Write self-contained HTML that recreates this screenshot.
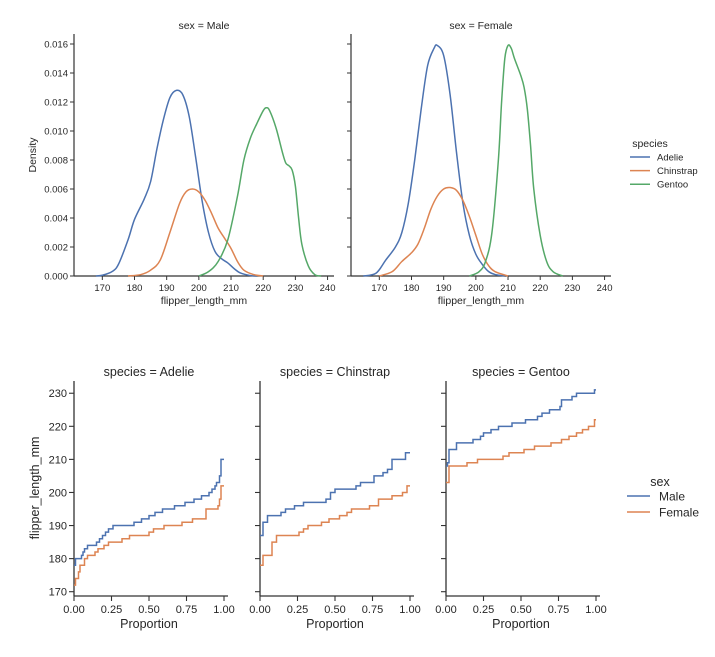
<!DOCTYPE html>
<html><head><meta charset="utf-8"><style>
body{margin:0;background:#fff}
svg{display:block;font-family:"Liberation Sans",sans-serif;fill:#262626}
</style></head><body>
<svg id="c" width="715" height="657" viewBox="0 0 715 657"></svg>
<script>
// ---- KDE data (top row) ----
const kdeMaleAdelieX=[168,170,173,175,178,180,183,185,187,189,191,193,195,197,199,201,203,205,207,209,211,213,216,218];
const kdeMaleAdelieY=[0,0.00005,0.0003,0.0008,0.0025,0.0039,0.0053,0.0065,0.0088,0.0108,0.0123,0.0128,0.0125,0.011,0.0082,0.0052,0.003,0.0017,0.0012,0.0009,0.0005,0.0002,0.00003,0];
const kdeMaleChinX=[178,182,185,188,191,194,196,198,200,202,204,206,208,210,212,214,217,220];
const kdeMaleChinY=[0,0.0001,0.0004,0.0011,0.003,0.005,0.0058,0.006,0.0058,0.0052,0.0043,0.0033,0.0026,0.0019,0.001,0.0004,0.0001,0];
const kdeMaleGenX=[200,203,206,209,212,214,216,218,220,221,222,224,226,227,228,229,230,231,232,234,236,238];
const kdeMaleGenY=[0,0.0003,0.001,0.0025,0.0055,0.008,0.0095,0.0105,0.0114,0.0116,0.0114,0.0102,0.0085,0.0078,0.0076,0.0073,0.0062,0.004,0.0022,0.0007,0.0001,0];
const kdeFemAdelieX=[165,169,172,175,177,179,181,183,185,187,188,190,192,194,196,198,200,202,204,206,209];
const kdeFemAdelieY=[0,0.0002,0.0011,0.002,0.003,0.005,0.008,0.0115,0.0145,0.0157,0.0159,0.0152,0.0125,0.0085,0.005,0.0028,0.0015,0.0008,0.0003,0.0001,0];
const kdeFemChinX=[170,174,177,180,182,184,186,188,190,192,194,196,198,200,202,204,206,210];
const kdeFemChinY=[0,0.0003,0.001,0.0016,0.0022,0.0033,0.0046,0.0055,0.006,0.0061,0.0059,0.0052,0.0041,0.0028,0.0015,0.0007,0.0003,0];
const kdeFemGenX=[198,201,203,205,207,208,209,210,211,212,214,215,216,217,218,220,222,224,227];
const kdeFemGenY=[0,0.0003,0.001,0.003,0.008,0.012,0.015,0.0159,0.0157,0.015,0.0138,0.013,0.0115,0.009,0.006,0.0028,0.001,0.0003,0];
const kdeXTicks=[170,180,190,200,210,220,230,240];
const kdeYTicks=[0,0.002,0.004,0.006,0.008,0.010,0.012,0.014,0.016];
// ---- ECDF data (bottom row): proportion where step starts, value ----
const adelieMaleP=[0,0.01,0.05,0.06,0.07,0.09,0.15,0.17,0.19,0.21,0.23,0.26,0.40,0.45,0.50,0.54,0.59,0.67,0.74,0.80,0.85,0.90,0.92,0.94,0.95,0.97,0.98];
const adelieMaleV=[178,180,181,182,183,184,185,186,187,188,189,190,191,192,193,194,195,196,197,198,199,200,201,202,203,205,210];
const adelieFemP=[0,0.01,0.03,0.04,0.07,0.09,0.14,0.16,0.20,0.23,0.32,0.37,0.50,0.53,0.60,0.72,0.79,0.88,0.96,0.97,0.98];
const adelieFemV=[172,174,176,178,180,181,182,183,184,185,186,187,188,189,190,191,192,195,196,198,202];
const chinMaleP=[0,0.02,0.05,0.14,0.17,0.23,0.29,0.44,0.47,0.50,0.64,0.67,0.76,0.82,0.85,0.88,0.97];
const chinMaleV=[187,191,193,194,195,196,197,198,200,201,202,203,205,206,207,210,212];
const chinFemP=[0,0.02,0.08,0.11,0.26,0.29,0.32,0.41,0.46,0.53,0.58,0.61,0.73,0.79,0.88,0.95,0.98];
const chinFemV=[178,181,185,187,188,189,190,191,192,193,194,195,196,198,199,200,202];
const genMaleP=[0,0.01,0.02,0.07,0.18,0.23,0.25,0.30,0.35,0.44,0.53,0.61,0.64,0.69,0.76,0.77,0.84,0.87,0.99];
const genMaleV=[208,209,213,215,216,217,218,219,220,221,222,223,224,225,226,228,229,230,231];
const genFemP=[0,0.02,0.14,0.21,0.38,0.42,0.52,0.59,0.70,0.77,0.82,0.87,0.91,0.95,0.99];
const genFemV=[203,208,209,210,211,212,213,214,215,216,217,218,219,220,222];
const ecdfXTicks=[0,0.25,0.5,0.75,1.0];
const ecdfXLabels=["0.00","0.25","0.50","0.75","1.00"];
const ecdfYTicks=[170,180,190,200,210,220,230];

const NS="http://www.w3.org/2000/svg";
const svg=document.getElementById('c');
const C={blue:"#4c72b0",orange:"#dd8452",green:"#55a868"};
function mk(tag,attrs,parent){const e=document.createElementNS(NS,tag);for(const k in attrs)e.setAttribute(k,attrs[k]);(parent||svg).appendChild(e);return e;}
function txt(s,x,y,size,anchor,name,rot){const t=mk('text',{x:x,y:y,'font-size':size,'text-anchor':anchor||'middle'});if(rot)t.setAttribute('transform','rotate(-90 '+x+' '+y+')');t.textContent=s;


return t;}

// ---- top KDE panels ----
function kdePanel(x0,x1,title,series,showY,nm){
  const yTop=34,yBot=276;
  const sx=v=>x0+(v-161.2)/(242-161.2)*(x1-x0);
  const sy=v=>yBot-(v/0.016)*(yBot-44);
  const g=mk('g',{});
  
  
  mk('line',{x1:x0,y1:yTop,x2:x0,y2:yBot,stroke:'#333','stroke-width':1.2},g);
  mk('line',{x1:x0,y1:yBot,x2:x1,y2:yBot,stroke:'#333','stroke-width':1.2},g);
  kdeYTicks.forEach(v=>{mk('line',{x1:x0-4,y1:sy(v),x2:x0,y2:sy(v),stroke:'#333','stroke-width':1},g);
    if(showY)txt(v.toFixed(3),x0-6,sy(v)+3.5,9.5,'end','y-tick-label');});
  kdeXTicks.forEach(v=>{mk('line',{x1:sx(v),y1:yBot,x2:sx(v),y2:yBot+4,stroke:'#333','stroke-width':1},g);
    txt(String(v),sx(v),yBot+15,9.5,'middle','x-tick-label');});
  txt('flipper_length_mm',(x0+x1)/2,yBot+28,10.5,'middle','x-axis-title');
  txt(title,(x0+x1)/2,29,10.5,'middle','panel-title');
  series.forEach(s=>{
    const pts=s.x.map((v,i)=>[sx(v),sy(s.y[i])]);
    let d='M'+pts[0][0]+','+pts[0][1];
    for(let i=0;i<pts.length-1;i++){const p0=pts[i-1]||pts[i],p1=pts[i],p2=pts[i+1],p3=pts[i+2]||p2;
      d+=' C'+(p1[0]+(p2[0]-p0[0])/6)+','+(p1[1]+(p2[1]-p0[1])/6)+' '+(p2[0]-(p3[0]-p1[0])/6)+','+(p2[1]-(p3[1]-p1[1])/6)+' '+p2[0]+','+p2[1];}
    const p=mk('path',{d:d,fill:'none',stroke:s.c,'stroke-width':1.5},g);
    
    
  });
}
kdePanel(74,334,'sex = Male',[{x:kdeMaleAdelieX,y:kdeMaleAdelieY,c:C.blue,n:'kde-male-adelie'},{x:kdeMaleChinX,y:kdeMaleChinY,c:C.orange,n:'kde-male-chinstrap'},{x:kdeMaleGenX,y:kdeMaleGenY,c:C.green,n:'kde-male-gentoo'}],true,'panel-male');
kdePanel(351,611,'sex = Female',[{x:kdeFemAdelieX,y:kdeFemAdelieY,c:C.blue,n:'kde-female-adelie'},{x:kdeFemChinX,y:kdeFemChinY,c:C.orange,n:'kde-female-chinstrap'},{x:kdeFemGenX,y:kdeFemGenY,c:C.green,n:'kde-female-gentoo'}],false,'panel-female');
txt('Density',36,155,10.5,'middle','density-axis-title',true);

// ---- bottom ECDF panels ----
function ecdfPanel(x0,title,series,showY,nm){
  const x1=x0+154,yTop=381,yBot=596;
  const sx=v=>x0+v*150;
  const sy=v=>yBot-(v-168.7)/(233.7-168.7)*(yBot-yTop);
  const g=mk('g',{});
  
  
  mk('line',{x1:x0,y1:yTop,x2:x0,y2:yBot,stroke:'#333','stroke-width':1.3},g);
  mk('line',{x1:x0,y1:yBot,x2:x1,y2:yBot,stroke:'#333','stroke-width':1.3},g);
  ecdfYTicks.forEach(v=>{mk('line',{x1:x0-5,y1:sy(v),x2:x0,y2:sy(v),stroke:'#333','stroke-width':1.1},g);
    if(showY)txt(String(v),x0-7,sy(v)+4,11,'end','y-tick-label');});
  ecdfXTicks.forEach((v,i)=>{mk('line',{x1:sx(v),y1:yBot,x2:sx(v),y2:yBot+5,stroke:'#333','stroke-width':1.1},g);
    txt(ecdfXLabels[i],sx(v),yBot+17,11,'middle','x-tick-label');});
  txt('Proportion',(x0+x0+150)/2,yBot+32,12.5,'middle','x-axis-title');
  txt(title,(x0+x0+150)/2,376,12.5,'middle','panel-title');
  series.forEach(s=>{
    let d='M'+sx(s.p[0])+','+sy(s.v[0]);
    for(let i=1;i<s.p.length;i++){d+=' H'+sx(s.p[i])+' V'+sy(s.v[i]);}
    d+=' H'+sx(1);
    const p=mk('path',{d:d,fill:'none',stroke:s.c,'stroke-width':1.5},g);
    
    
  });
}
ecdfPanel(74,'species = Adelie',[{p:adelieMaleP,v:adelieMaleV,c:C.blue,n:'ecdf-adelie-male'},{p:adelieFemP,v:adelieFemV,c:C.orange,n:'ecdf-adelie-female'}],true,'panel-adelie');
ecdfPanel(260,'species = Chinstrap',[{p:chinMaleP,v:chinMaleV,c:C.blue,n:'ecdf-chinstrap-male'},{p:chinFemP,v:chinFemV,c:C.orange,n:'ecdf-chinstrap-female'}],false,'panel-chinstrap');
ecdfPanel(446,'species = Gentoo',[{p:genMaleP,v:genMaleV,c:C.blue,n:'ecdf-gentoo-male'},{p:genFemP,v:genFemV,c:C.orange,n:'ecdf-gentoo-female'}],false,'panel-gentoo');
txt('flipper_length_mm',39,488,12.5,'middle','flipper-axis-title',true);

// ---- legends ----
txt('species',650,147,10.5,'middle','legend-title-species');
[['Adelie',C.blue],['Chinstrap',C.orange],['Gentoo',C.green]].forEach((e,i)=>{const y=157+i*13.6;
  const l=mk('line',{x1:630,y1:y,x2:650,y2:y,stroke:e[1],'stroke-width':1.5});
  
  
  txt(e[0],657,y+3.5,9.5,'start','legend-entry-'+e[0].toLowerCase());});
txt('sex',660,486,12.5,'middle','legend-title-sex');
[['Male',C.blue],['Female',C.orange]].forEach((e,i)=>{const y=496+i*16;
  const l=mk('line',{x1:627,y1:y,x2:650,y2:y,stroke:e[1],'stroke-width':1.5});
  
  
  txt(e[0],659,y+4.5,12,'start','legend-entry-'+e[0].toLowerCase());});
</script>
</body></html>
